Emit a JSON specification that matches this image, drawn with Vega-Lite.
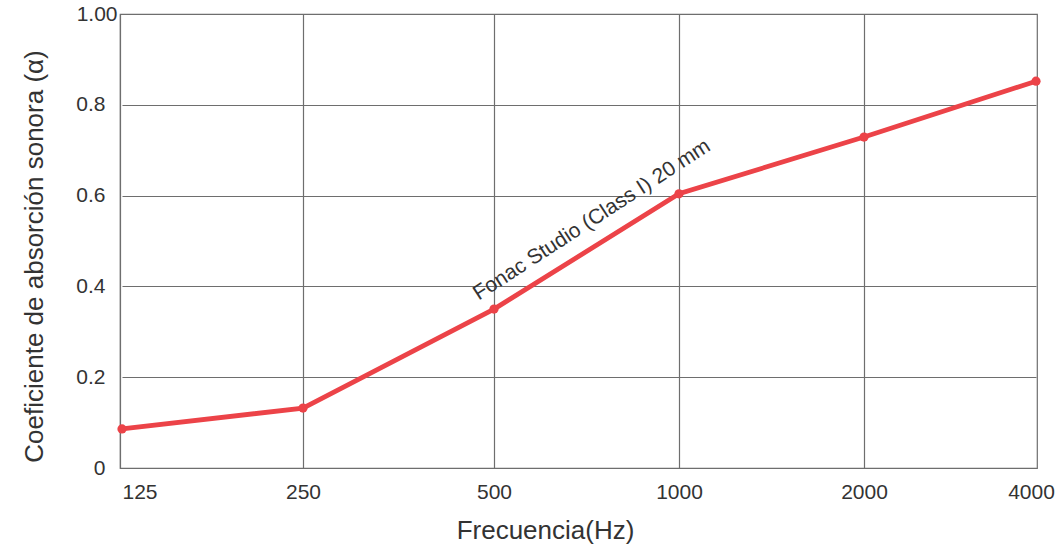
{
  "$schema": "https://vega.github.io/schema/vega-lite/v6.json",
  "description": "Coeficiente de absorción sonora de Fonac Studio (Class I) 20 mm por frecuencia.",
  "autosize": {"type": "none"},
  "padding": {"left": 120, "top": 14, "right": 25, "bottom": 78},
  "width": 917,
  "height": 454,
  "background": "white",
  "config": {
    "font": "Liberation Sans",
    "view": {"stroke": "#6e6e6e", "strokeWidth": 1.2},
    "axis": {
      "domainColor": "#6e6e6e",
      "domainWidth": 1.2,
      "gridColor": "#6e6e6e",
      "gridWidth": 1.2,
      "ticks": false,
      "labelFont": "Liberation Sans",
      "labelFontSize": 21,
      "labelColor": "#333333",
      "titleFont": "Liberation Sans",
      "titleFontWeight": "normal",
      "titleColor": "#333333",
      "titleFontSize": 26
    }
  },
  "datasets": {
    "curve": [
      {"freq": 125, "alpha": 0.086},
      {"freq": 250, "alpha": 0.132},
      {"freq": 500, "alpha": 0.35},
      {"freq": 1000, "alpha": 0.604},
      {"freq": 2000, "alpha": 0.729},
      {"freq": 4000, "alpha": 0.852}
    ],
    "label": [
      {"freq": 765, "alpha": 0.546, "text": "Fonac Studio (Class I) 20 mm"}
    ]
  },
  "layer": [
    {
      "data": {"name": "curve"},
      "mark": {"type": "line", "color": "#ec4348", "strokeWidth": 4.8, "point": {"filled": true, "size": 85, "color": "#ec4348"}},
      "encoding": {
        "x": {
          "field": "freq",
          "type": "quantitative",
          "scale": {"domain": [125, 250, 500, 1000, 2000, 4000], "range": [2, 183, 374, 559, 744, 916], "nice": false, "zero": false},
          "axis": {
            "values": [125, 250, 500, 1000, 2000, 4000],
            "format": "d",
            "labelFlush": false,
            "labelAlign": {"condition": {"test": "datum.value == 125", "value": "left"}, "value": "center"},
            "labelOffset": {"condition": {"test": "datum.value == 4000", "value": -5}, "value": 0},
            "labelPadding": 13,
            "gridOpacity": {"condition": {"test": "datum.value == 125 || datum.value == 4000", "value": 0}, "value": 1},
            "title": "Frecuencia(Hz)",
            "titleX": 425,
            "titlePadding": 15
          }
        },
        "y": {
          "field": "alpha",
          "type": "quantitative",
          "scale": {"domain": [0, 1], "nice": false},
          "axis": {
            "values": [0, 0.2, 0.4, 0.6, 0.8, 1],
            "labelExpr": "datum.value == 0 ? '0' : datum.value == 1 ? '1.00' : format(datum.value, '.1f')",
            "labelPadding": {"condition": {"test": "datum.value == 1", "value": 3}, "value": 15},
            "title": "Coeficiente de absorción sonora (α)",
            "titleY": 242,
            "titlePadding": 28
          }
        }
      }
    },
    {
      "data": {"name": "label"},
      "mark": {"type": "text", "angle": -33, "fontSize": 21, "color": "#333333", "font": "Liberation Sans"},
      "encoding": {
        "x": {"field": "freq", "type": "quantitative"},
        "y": {"field": "alpha", "type": "quantitative"},
        "text": {"field": "text"}
      }
    }
  ]
}
